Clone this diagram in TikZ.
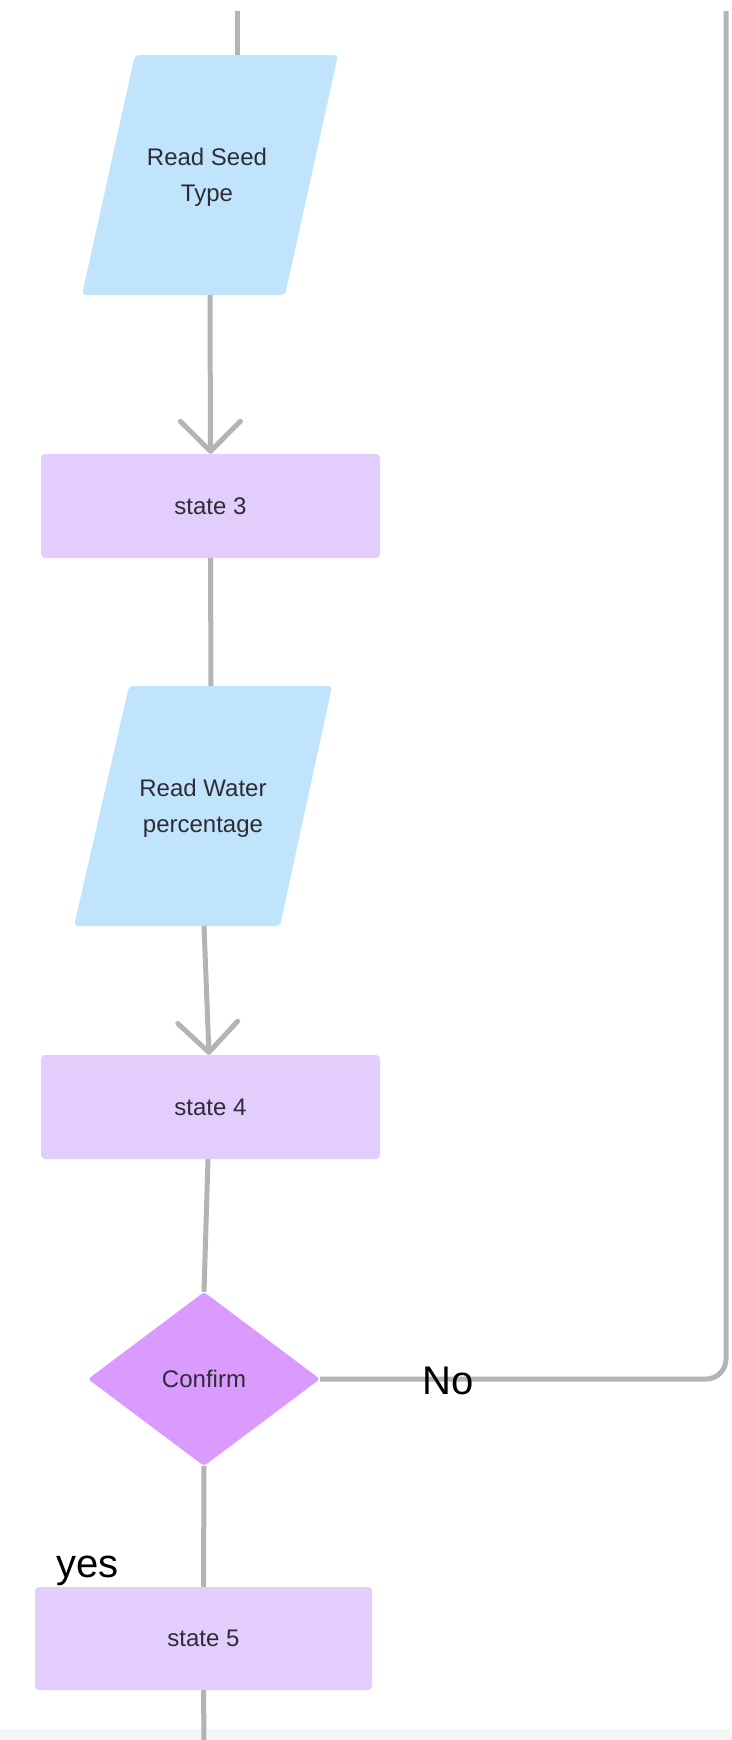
\documentclass[tikz,border=0pt]{standalone}
\usepackage{fontspec}
\setmainfont{Liberation Sans}
\usetikzlibrary{arrows.meta,shapes.geometric}
\definecolor{linegray}{RGB}{180,180,180}
\definecolor{inblue}{RGB}{192,228,252}
\definecolor{statev}{RGB}{227,205,253}
\definecolor{decv}{RGB}{217,155,253}
\definecolor{txt}{RGB}{45,45,55}
\definecolor{band}{RGB}{246,246,246}
\begin{document}
\begin{tikzpicture}[x=1pt,y=-1pt,
  conn/.style={draw=linegray,line width=5pt},
  arr/.style={-{Straight Barb[length=30pt,width=60pt,round]}},
  statebox/.style={rectangle,fill=statev,rounded corners=4pt,minimum width=339pt,minimum height=104pt,inner sep=0pt,text=txt,font=\fontsize{24}{36}\selectfont},
  iotext/.style={inner sep=0pt,text=txt,align=center,font=\fontsize{24}{36}\selectfont},
  decision/.style={diamond,fill=decv,rounded corners=3pt,minimum width=232pt,minimum height=174pt,inner sep=0pt,text=txt,font=\fontsize{24}{36}\selectfont},
  biglabel/.style={inner sep=0pt,text=black,font=\fontsize{40}{44}\selectfont}
]
\useasboundingbox (0,0) rectangle (731,1740);
\fill[white] (0,0) rectangle (731,1740);
\fill[band] (0,1729) rectangle (731,1740);

% parallelogram shapes
\fill[inblue,rounded corners=4pt] (135,55) -- (338,55) -- (285,295) -- (82,295) -- cycle;
\node[iotext] (read1) at (207,177) {Read Seed\\Type};
\fill[inblue,rounded corners=4pt] (129,686) -- (332,686) -- (280,926) -- (74,926) -- cycle;
\node[iotext] (read2) at (203,808) {Read Water\\percentage};

\coordinate (r1top) at (237,55);
\coordinate (r1bot) at (210,295);
\coordinate (r2top) at (211,686);
\coordinate (r2bot) at (204,926);
\coordinate (topin) at (237,11);
\coordinate (topright) at (726,11);
\coordinate (bottomout) at (204,1740);

\node[statebox] (s3) at (210.5,506) {state 3};
\node[statebox] (s4) at (210.5,1107) {state 4};
\node[decision] (conf) at (204,1379) {Confirm};
\node[statebox,minimum width=337pt,minimum height=103pt] (s5) at (203.5,1638.5) {state 5};

% connectors
\draw[conn] (topin) -- (r1top);
\draw[conn,arr] (r1bot) -- (s3.north);
\draw[conn] (s3.south) -- (r2top);
\draw[conn,arr] (r2bot) -- ([xshift=-1.5pt]s4.north);
\draw[conn] ([xshift=-2.5pt]s4.south) -- (conf.north);
\draw[conn,rounded corners=20pt] (conf.east) -| (topright);
\draw[conn] (conf.south) -- (s5.north);
\draw[conn] (s5.south) -- (bottomout);

\node[biglabel,anchor=base west] (no) at (422,1394) {No};
\node[biglabel,anchor=base west] (yes) at (56,1577) {yes};
\end{tikzpicture}
\end{document}
